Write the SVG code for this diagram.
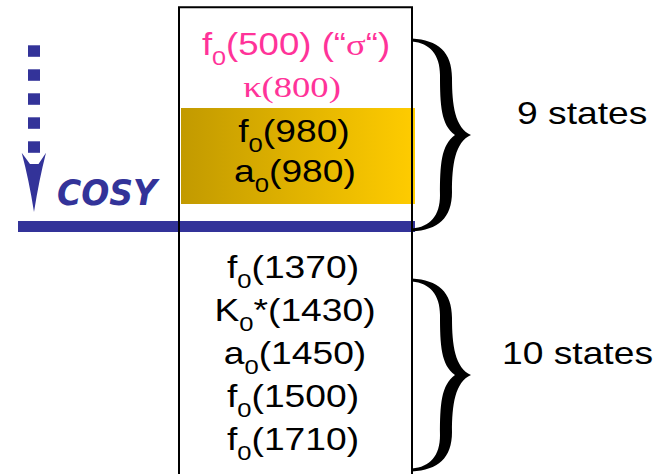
<svg xmlns="http://www.w3.org/2000/svg" width="670" height="474" viewBox="0 0 670 474">
  <style>
    .lbl { font-family: "Liberation Sans", Arial, sans-serif; font-size: 30.5px; fill: #000; }
    .pink { fill: #ff3399; }
    .serif { font-family: "Liberation Serif", "Times New Roman", serif; }
    .sub { font-size: 21px; }
    .cosy { font-family: "DejaVu Sans", sans-serif; font-weight: bold; font-style: italic; font-variant: small-caps; font-size: 50px; fill: #333399; }
    .blue { fill: #333399; }
  </style>
  <defs>
    <linearGradient id="gold" x1="0" y1="0" x2="1" y2="0">
      <stop offset="0" stop-color="#c29a00"/>
      <stop offset="1" stop-color="#ffcc00"/>
    </linearGradient>
    <!-- curly brace, tips at x=412, point at (471,135) -->
    <path id="brace" d="M412,38.5 C438,40 452,52 452,78 C452,105 455,128 471,135 C455,142 452,165 452,192 C452,218 438,230 412,231.5 L412,228.5 C430,227 440,216 440,195 C440,165 441,145 455,135 C441,125 440,105 440,75 C440,55 430,43 412,41.5 Z" fill="#000"/>
  </defs>

  <rect width="670" height="474" fill="#fff"/>

  <!-- highlighted f0/a0(980) band -->
  <rect id="highlight" x="181" y="108" width="234" height="96" fill="url(#gold)"/>

  <!-- threshold bar -->
  <rect id="threshold" class="blue" x="18" y="221" width="397" height="11"/>

  <!-- column outline -->
  <path id="column" d="M179,476 V7.3 H412 V476" fill="none" stroke="#000" stroke-width="2"/>

  <g id="connectors">
    <g class="blue">
      <rect x="28" y="45.3" width="12" height="11.5"/>
      <rect x="28" y="69.3" width="12" height="11.5"/>
      <rect x="28" y="93.3" width="12" height="11.5"/>
      <rect x="28" y="117.3" width="12" height="11.5"/>
      <rect x="28" y="141.3" width="12" height="11.5"/>
      <path d="M21.7,152.7 L30,164 L38.5,164 L46,152.7 Q39,180 34,212 Q29,180 21.7,152.7 Z"/>
    </g>
  </g>

  <g id="cosy-label">
    <text class="cosy" x="57" y="205" textLength="100" lengthAdjust="spacingAndGlyphs">cosy</text>
  </g>

  <g id="light-states">
    <text class="lbl pink" transform="translate(296,55) scale(1.2,1)" text-anchor="middle">f<tspan class="sub" dy="10">0</tspan><tspan dy="-10">(500) (“</tspan><tspan class="serif">σ</tspan>“)</text>
    <text class="lbl pink serif" transform="translate(292,97) scale(1.2,1)" text-anchor="middle">κ(800)</text>
    <text class="lbl" transform="translate(294,142) scale(1.22,1)" text-anchor="middle">f<tspan class="sub" dy="10">0</tspan><tspan dy="-10">(980)</tspan></text>
    <text class="lbl" transform="translate(295,182) scale(1.22,1)" text-anchor="middle">a<tspan class="sub" dy="10">0</tspan><tspan dy="-10">(980)</tspan></text>
  </g>

  <g id="heavy-states">
    <text class="lbl" transform="translate(293,278) scale(1.22,1)" text-anchor="middle">f<tspan class="sub" dy="10">0</tspan><tspan dy="-10">(1370)</tspan></text>
    <text class="lbl" transform="translate(295,321) scale(1.22,1)" text-anchor="middle">K<tspan class="sub" dy="10">0</tspan><tspan dy="-10">*(1430)</tspan></text>
    <text class="lbl" transform="translate(295,364) scale(1.22,1)" text-anchor="middle">a<tspan class="sub" dy="10">0</tspan><tspan dy="-10">(1450)</tspan></text>
    <text class="lbl" transform="translate(293,407) scale(1.22,1)" text-anchor="middle">f<tspan class="sub" dy="10">0</tspan><tspan dy="-10">(1500)</tspan></text>
    <text class="lbl" transform="translate(293,450) scale(1.22,1)" text-anchor="middle">f<tspan class="sub" dy="10">0</tspan><tspan dy="-10">(1710)</tspan></text>
  </g>

  <g id="brace-9">
    <use href="#brace"/>
    <text class="lbl" transform="translate(517,124) scale(1.22,1)">9 states</text>
  </g>

  <g id="brace-10">
    <use href="#brace" transform="translate(0,240)"/>
    <text class="lbl" transform="translate(502,364) scale(1.22,1)">10 states</text>
  </g>
</svg>
